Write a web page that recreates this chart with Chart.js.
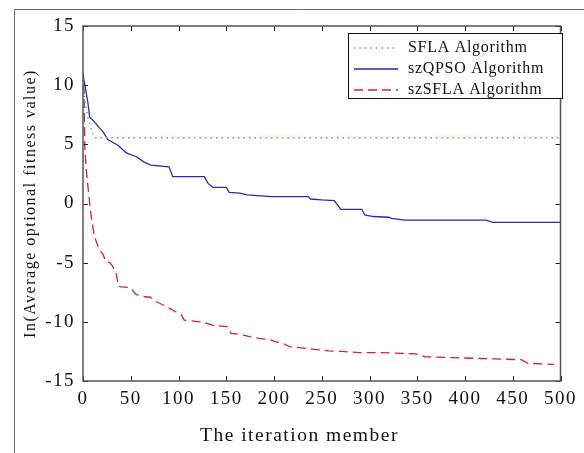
<!DOCTYPE html>
<html>
<head>
<meta charset="utf-8">
<script src="https://cdn.jsdelivr.net/npm/chart.js@4/dist/chart.umd.min.js"></script>
<style>
  html, body { margin: 0; padding: 0; background: #fff; }
  #wrap { width: 584px; height: 453px; }
</style>
</head>
<body>
<div id="wrap"><canvas id="chart1" width="584" height="453"></canvas></div>
<script>
// iteration numbers and ln(fitness)
const sflaIter = [0, 2, 5, 9, 12, 500];
const sflaVal = [10.5, 8.6, 7.3, 6.2, 5.55, 5.55];

const qpsoIter = [0, 2, 5, 7, 12, 16, 21, 26, 37, 45, 48, 56, 64, 71, 90, 94, 127, 131, 136, 150,
  153, 164, 172, 197, 236, 238, 250, 263, 270, 292, 295, 304, 320, 323, 337, 422, 429, 500];
const qpsoVal = [10.9, 10.0, 8.6, 7.3, 6.9, 6.5, 6.05, 5.4, 4.9, 4.3, 4.2, 3.95, 3.5, 3.25, 3.1, 2.27, 2.27, 1.7, 1.37, 1.37,
  0.94, 0.87, 0.72, 0.58, 0.58, 0.38, 0.3, 0.25, -0.49, -0.49, -0.97, -1.1, -1.16, -1.25, -1.4, -1.4, -1.6, -1.6];

const szsflaIter = [0, 1, 2, 3.5, 7, 8.6, 12, 17, 21, 24, 28, 31, 35, 37, 40, 49, 56, 66, 70, 77, 87, 97, 103, 106,
  122, 125, 136, 151, 155, 167, 174, 184, 195, 202, 209, 216, 240, 257, 271, 289, 313, 348, 358, 417, 459, 466, 493];
const szsflaVal = [10.0, 9.6, 4.5, 2.8, 0, -1.1, -2.8, -3.9, -4.3, -4.9, -5.0, -5.3, -6.0, -7.0, -7.05, -7.1, -7.7, -7.9, -7.9, -8.3, -8.7, -9.15, -9.4, -9.85,
  -10.0, -10.0, -10.3, -10.4, -10.97, -11.1, -11.25, -11.4, -11.5, -11.7, -11.8, -12.1, -12.3, -12.45, -12.5, -12.6, -12.6, -12.7, -12.95, -13.1, -13.2, -13.5, -13.6];

const seriesNames = ["SFLA Algorithm", "szQPSO Algorithm", "szSFLA Algorithm"];
const xTicks = [0, 50, 100, 150, 200, 250, 300, 350, 400, 450, 500];
const yTicks = [-15, -10, -5, 0, 5, 10, 15];

const serif = "'Liberation Serif', 'DejaVu Serif', serif";

function toPoints(xs, ys) {
  return xs.map((x, i) => ({ x: x, y: ys[i] }));
}

// box, inward ticks, outer frame and the legend, matlab style
const matlabFrame = {
  id: "matlabFrame",
  beforeLayout(chart) {
    chart.ctx.letterSpacing = "1.5px";
  },
  beforeDraw(chart) {
    const ctx = chart.ctx;
    ctx.save();
    ctx.fillStyle = "#fff";
    ctx.fillRect(0, 0, chart.width, chart.height);
    ctx.strokeStyle = "#6a6a6a";
    ctx.lineWidth = 1;
    ctx.beginPath();
    ctx.moveTo(14.5, chart.height);
    ctx.lineTo(14.5, 9.5);
    ctx.lineTo(chart.width, 9.5);
    ctx.stroke();
    ctx.restore();
    // the figure text is set loosely spaced
    ctx.letterSpacing = "1.5px";
  },
  afterDatasetsDraw(chart) {
    const ctx = chart.ctx;
    const a = chart.chartArea;
    const xs = chart.scales.x, ys = chart.scales.y;
    ctx.save();
    ctx.strokeStyle = "#222";
    ctx.lineWidth = 1;
    ctx.beginPath();
    xTicks.forEach(v => {
      const px = Math.round(xs.getPixelForValue(v)) + 0.5;
      ctx.moveTo(px, a.bottom); ctx.lineTo(px, a.bottom - 5);
      ctx.moveTo(px, a.top); ctx.lineTo(px, a.top + 5);
    });
    yTicks.forEach(v => {
      const py = Math.round(ys.getPixelForValue(v)) + 0.5;
      ctx.moveTo(a.left, py); ctx.lineTo(a.left + 5, py);
      ctx.moveTo(a.right, py); ctx.lineTo(a.right - 5, py);
    });
    ctx.stroke();
    ctx.strokeStyle = "#555";
    ctx.lineWidth = 1.5;
    ctx.strokeRect(a.left, a.top, a.right - a.left, a.bottom - a.top);
    ctx.restore();
  },
  afterDraw(chart) {
    const ctx = chart.ctx;
    const bx = 348, by = 33, bw = 214, bh = 65;
    ctx.save();
    ctx.fillStyle = "#fff";
    ctx.fillRect(bx, by, bw, bh);
    ctx.strokeStyle = "#111";
    ctx.lineWidth = 1;
    ctx.strokeRect(bx + 0.5, by + 0.5, bw, bh);
    ctx.font = "16px " + serif;
    ctx.letterSpacing = "0.7px";
    ctx.textBaseline = "middle";
    chart.data.datasets.forEach((ds, i) => {
      const ry = by + 15 + i * 21;
      ctx.strokeStyle = ds.borderColor;
      ctx.lineWidth = ds.borderWidth;
      ctx.setLineDash(ds.borderDash || []);
      ctx.beginPath();
      ctx.moveTo(bx + 6, ry);
      ctx.lineTo(bx + 50, ry);
      ctx.stroke();
      ctx.setLineDash([]);
      ctx.fillStyle = "#111";
      ctx.fillText(ds.label, bx + 60, ry);
    });
    ctx.restore();
  }
};

const chart = new Chart(document.getElementById("chart1"), {
  type: "line",
  data: {
    datasets: [
      {
        label: seriesNames[0],
        data: toPoints(sflaIter, sflaVal),
        borderColor: "#3cc83c",
        borderWidth: 1.5,
        borderDash: [1.5, 4],
        pointRadius: 0,
        tension: 0,
      },
      {
        label: seriesNames[1],
        data: toPoints(qpsoIter, qpsoVal),
        borderColor: "#2a2aaa",
        borderWidth: 1.3,
        pointRadius: 0,
        tension: 0,
      },
      {
        label: seriesNames[2],
        data: toPoints(szsflaIter, szsflaVal),
        borderColor: "#d0203c",
        borderWidth: 1.3,
        borderDash: [9, 5],
        pointRadius: 0,
        tension: 0,
      },
    ],
  },
  options: {
    responsive: false,
    animation: false,
    layout: { padding: { left: 21, right: 21, top: 26, bottom: 5 } },
    plugins: {
      legend: { display: false },
      tooltip: { enabled: false },
    },
    scales: {
      x: {
        type: "linear",
        min: 0,
        max: 500,
        afterBuildTicks: (s) => { s.ticks = xTicks.map(v => ({ value: v })); },
        afterFit: (s) => { s.height = 67; },
        grid: { display: false, drawTicks: false },
        border: { display: false },
        ticks: { color: "#111", font: { family: serif, size: 19 }, padding: 7, maxRotation: 0, autoSkip: false },
        // trailing spaces nudge the centred title left, as in the figure
        title: { display: true, text: "The iteration member       ", color: "#111", font: { family: serif, size: 19.5 }, padding: 0 },
      },
      y: {
        type: "linear",
        min: -15,
        max: 15,
        afterBuildTicks: (s) => { s.ticks = yTicks.map(v => ({ value: v })); },
        afterFit: (s) => { s.width = 62; },
        grid: { display: false, drawTicks: false },
        border: { display: false },
        ticks: { color: "#111", font: { family: serif, size: 19 }, padding: 8 },
        title: { display: true, text: "In(Average optional fitness value)", color: "#111", font: { family: serif, size: 16 }, padding: 0 },
      },
    },
  },
  plugins: [matlabFrame],
});
</script>
</body>
</html>
